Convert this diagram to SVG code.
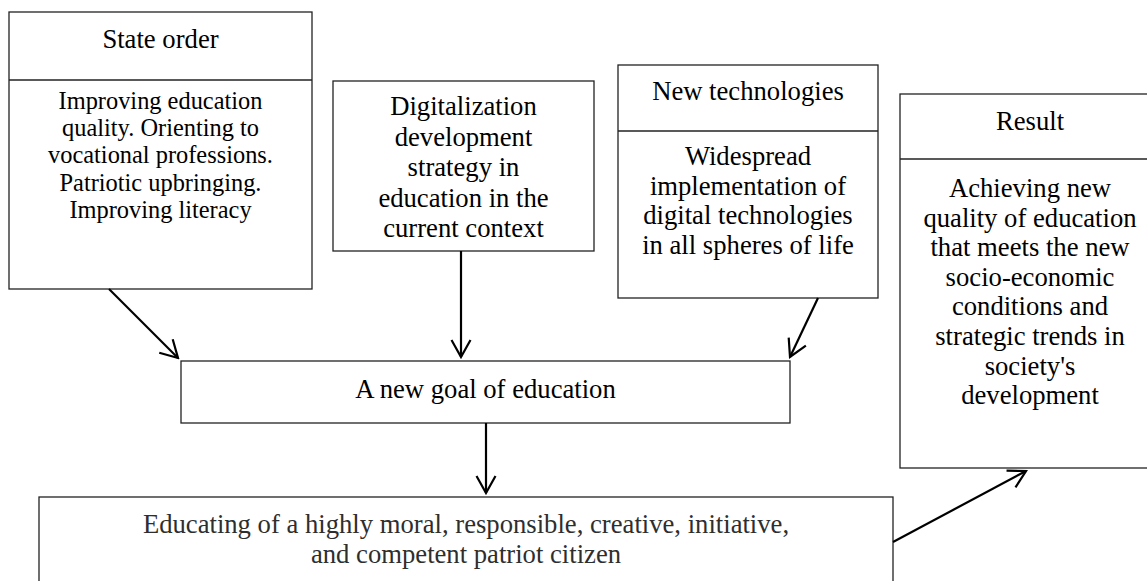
<svg xmlns="http://www.w3.org/2000/svg" width="1147" height="581" viewBox="0 0 1147 581">
<style>
  .box { fill: #ffffff; stroke: #222222; stroke-width: 1.3; }
  .div { stroke: #222222; stroke-width: 1.3; }
  .t { font-family: "Liberation Serif", "Times New Roman", serif; font-size: 26.67px; fill: #000000; text-anchor: middle; }
  .ts { font-size: 24.4px; }
  .t2 { fill: #2e2e2e; }
  .conn { stroke: #000000; stroke-width: 2.2; fill: none; marker-end: url(#arrow); }
</style>
<defs>
  <marker id="arrow" markerUnits="userSpaceOnUse" viewBox="-20 -12 22 24" refX="0" refY="0" markerWidth="22" markerHeight="24" orient="auto">
    <path d="M -17 -9.5 L 0 0 L -17 9.5" fill="none" stroke="#000000" stroke-width="2.2" stroke-linejoin="miter"/>
  </marker>
</defs>
<rect width="1147" height="581" fill="#ffffff"/>

<g id="state-order">
  <rect class="box" x="9" y="12" width="303" height="277"/>
  <line class="div" x1="9" y1="80" x2="312" y2="80"/>
  <text class="t" x="160.5" y="48">State order</text>
  <text class="t ts" x="160.5" y="109"><tspan x="160.5">Improving education</tspan><tspan x="160.5" dy="27.2">quality. Orienting to</tspan><tspan x="160.5" dy="27.2">vocational professions.</tspan><tspan x="160.5" dy="27.2">Patriotic upbringing.</tspan><tspan x="160.5" dy="27.2">Improving literacy</tspan></text>
</g>

<g id="digitalization">
  <rect class="box" x="333" y="81" width="261" height="170"/>
  <text class="t" x="463.5" y="115"><tspan x="463.5">Digitalization</tspan><tspan x="463.5" dy="30.5">development</tspan><tspan x="463.5" dy="30.5">strategy in</tspan><tspan x="463.5" dy="30.5">education in the</tspan><tspan x="463.5" dy="30.5">current context</tspan></text>
</g>

<g id="new-technologies">
  <rect class="box" x="618" y="65" width="260" height="233"/>
  <line class="div" x1="618" y1="131" x2="878" y2="131"/>
  <text class="t" x="748" y="100">New technologies</text>
  <text class="t" x="748" y="165"><tspan x="748">Widespread</tspan><tspan x="748" dy="29.5">implementation of</tspan><tspan x="748" dy="29.5">digital technologies</tspan><tspan x="748" dy="29.5">in all spheres of life</tspan></text>
</g>

<g id="result">
  <rect class="box" x="900" y="94" width="260" height="374"/>
  <line class="div" x1="900" y1="159" x2="1160" y2="159"/>
  <text class="t" x="1030" y="130">Result</text>
  <text class="t" x="1030" y="197"><tspan x="1030">Achieving new</tspan><tspan x="1030" dy="29.6">quality of education</tspan><tspan x="1030" dy="29.6">that meets the new</tspan><tspan x="1030" dy="29.6">socio-economic</tspan><tspan x="1030" dy="29.6">conditions and</tspan><tspan x="1030" dy="29.6">strategic trends in</tspan><tspan x="1030" dy="29.6">society's</tspan><tspan x="1030" dy="29.6">development</tspan></text>
</g>

<g id="new-goal">
  <rect class="box" x="181" y="361" width="609" height="62"/>
  <text class="t" x="485.5" y="398">A new goal of education</text>
</g>

<g id="educating">
  <rect class="box" x="39" y="497" width="854" height="100"/>
  <text class="t t2" x="466" y="533"><tspan x="466">Educating of a highly moral, responsible, creative, initiative,</tspan><tspan x="466" dy="30">and competent patriot citizen</tspan></text>
</g>

<g id="connectors">
  <line class="conn" x1="109" y1="289" x2="178" y2="358"/>
  <line class="conn" x1="461" y1="251" x2="461" y2="357"/>
  <line class="conn" x1="818" y1="298" x2="790" y2="357"/>
  <line class="conn" x1="486" y1="423" x2="486" y2="493"/>
  <line class="conn" x1="893" y1="542" x2="1026" y2="471"/>
</g>
</svg>
